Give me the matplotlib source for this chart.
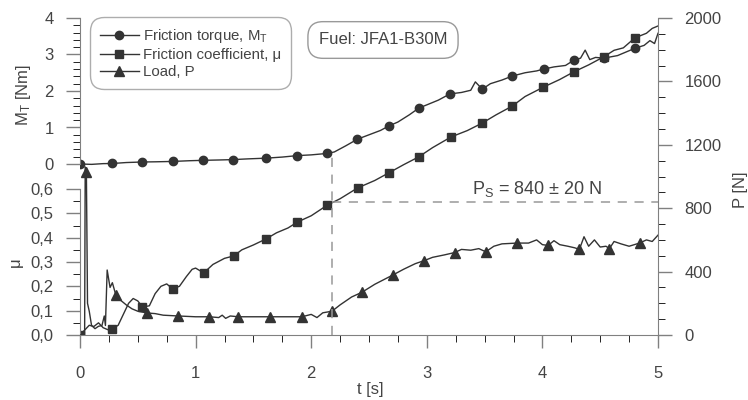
import matplotlib
matplotlib.use("Agg")
import matplotlib.pyplot as plt
from matplotlib.lines import Line2D
from matplotlib.ticker import FuncFormatter

plt.rcParams['font.family'] = ['Liberation Sans', 'DejaVu Sans']
plt.rcParams['mathtext.default'] = 'regular'

# --- data ---
# friction torque M_T [Nm]
t_mt = [0.00, 0.10, 0.20, 0.28, 0.40, 0.54, 0.65, 0.80, 0.95, 1.06, 1.20, 1.32, 1.45, 1.61,
        1.75, 1.88, 2.00, 2.14, 2.20, 2.30, 2.40, 2.50, 2.60, 2.67, 2.75, 2.85, 2.93, 3.00,
        3.10, 3.20, 3.30, 3.38, 3.42, 3.48, 3.55, 3.65, 3.74, 3.85, 3.95, 4.01, 4.10, 4.20,
        4.27, 4.33, 4.37, 4.41, 4.46, 4.53, 4.65, 4.80, 4.88, 4.93, 4.97, 5.00]
mt = [0.00, -0.01, 0.01, 0.014, 0.04, 0.055, 0.06, 0.07, 0.09, 0.10, 0.11, 0.12, 0.14, 0.16,
      0.19, 0.23, 0.25, 0.29, 0.33, 0.50, 0.68, 0.80, 0.92, 1.04, 1.15, 1.35, 1.53, 1.62,
      1.75, 1.92, 1.96, 2.02, 2.25, 2.05, 2.20, 2.30, 2.41, 2.50, 2.55, 2.60, 2.66, 2.70,
      2.84, 2.90, 3.12, 2.86, 2.92, 2.90, 2.97, 3.17, 3.25, 3.38, 3.30, 3.58]
t_mt_mk = [0.00, 0.277, 0.536, 0.804, 1.064, 1.32, 1.61, 1.88, 2.14, 2.40, 2.67, 2.93, 3.20,
           3.48, 3.74, 4.01, 4.27, 4.53, 4.80]
mt_mk = [0.00, 0.014, 0.055, 0.07, 0.10, 0.12, 0.16, 0.23, 0.29, 0.68, 1.04, 1.53, 1.92,
         2.05, 2.41, 2.60, 2.84, 2.90, 3.17]

# friction coefficient mu
t_mu = [0.00, 0.04, 0.08, 0.12, 0.16, 0.20, 0.25, 0.28, 0.33, 0.38, 0.42, 0.46, 0.50, 0.54,
        0.60, 0.65, 0.70, 0.75, 0.80, 0.86, 0.92, 0.97, 1.00, 1.07, 1.15, 1.25, 1.33, 1.40,
        1.50, 1.61, 1.70, 1.80, 1.88, 2.00, 2.14, 2.25, 2.40, 2.55, 2.67, 2.80, 2.93, 3.05,
        3.21, 3.35, 3.48, 3.60, 3.74, 3.85, 4.01, 4.15, 4.27, 4.40, 4.53, 4.62, 4.70, 4.80,
        4.90, 4.95, 5.00]
mu = [0.00, 0.02, 0.04, 0.035, 0.05, 0.03, 0.02, 0.025, 0.04, 0.09, 0.13, 0.15, 0.14, 0.115,
      0.12, 0.17, 0.20, 0.21, 0.19, 0.20, 0.24, 0.27, 0.275, 0.255, 0.29, 0.315, 0.325, 0.35,
      0.37, 0.395, 0.42, 0.44, 0.464, 0.49, 0.534, 0.56, 0.604, 0.635, 0.666, 0.70, 0.732, 0.77,
      0.814, 0.84, 0.871, 0.905, 0.941, 0.98, 1.019, 1.05, 1.081, 1.11, 1.143, 1.17, 1.18, 1.221,
      1.24, 1.26, 1.27]
t_mu_mk = [0.00, 0.277, 0.536, 0.804, 1.073, 1.332, 1.609, 1.877, 2.137, 2.405, 2.673, 2.932,
           3.21, 3.478, 3.737, 4.005, 4.273, 4.533, 4.801]
mu_mk = [0.00, 0.025, 0.115, 0.189, 0.253, 0.325, 0.395, 0.464, 0.534, 0.604, 0.666, 0.732,
         0.814, 0.871, 0.941, 1.019, 1.081, 1.143, 1.221]

# load P [N]
t_p = [0.00, 0.04, 0.045, 0.055, 0.065, 0.08, 0.10, 0.13, 0.16, 0.19, 0.21, 0.22, 0.235, 0.26,
       0.28, 0.31, 0.35, 0.40, 0.45, 0.50, 0.58, 0.65, 0.72, 0.85, 1.00, 1.12, 1.20, 1.23, 1.26,
       1.30, 1.37, 1.64, 1.92, 2.00, 2.05, 2.10, 2.18, 2.25, 2.35, 2.44, 2.55, 2.71, 2.80, 2.90,
       2.98, 3.05, 3.15, 3.24, 3.30, 3.38, 3.45, 3.51, 3.58, 3.65, 3.78, 3.88, 3.95, 4.00, 4.05,
       4.10, 4.15, 4.22, 4.28, 4.32, 4.36, 4.40, 4.45, 4.50, 4.55, 4.58, 4.62, 4.68, 4.75, 4.84,
       4.90, 4.95, 5.00]
p = [0, 0, 1060, 1050, 200, 150, 60, 40, 55, 60, 120, 60, 410, 300, 330, 252, 220, 190, 165, 150,
     139, 135, 125, 120, 115, 115, 110, 125, 105, 120, 115, 115, 115, 130, 110, 140, 150, 190,
     240, 270, 320, 380, 415, 450, 470, 490, 505, 520, 540, 535, 545, 525, 560, 575, 580, 580,
     600, 570, 565, 595, 570, 560, 550, 540, 620, 560, 600, 555, 560, 545, 590, 575, 560, 580,
     600, 590, 630]
t_p_mk = [0.05, 0.31, 0.58, 0.85, 1.12, 1.37, 1.64, 1.92, 2.18, 2.44, 2.71, 2.98, 3.24, 3.51,
          3.78, 4.05, 4.32, 4.58, 4.84]
p_mk = [1030, 252, 139, 120, 115, 115, 115, 115, 150, 270, 380, 470, 520, 525, 580, 565, 540,
        545, 580]

mu_ticks = [0, 0.1, 0.2, 0.3, 0.4, 0.5, 0.6]
mt_ticks = [0, 1, 2, 3, 4]
p_ticks = [0, 400, 800, 1200, 1600, 2000]
t_ticks = [0, 1, 2, 3, 4, 5]

ps_t = 2.18
ps_val = 840

ink = '#333333'
txt = '#444444'
axc = '#808080'
fs = 12

fig = plt.figure(figsize=(7.48, 4.0), dpi=100)
rect = [80 / 748, 65 / 400, 578 / 748, 317 / 400]
ax_mu = fig.add_axes(rect)
ax_mt = ax_mu.twinx()
ax_p = ax_mu.twinx()

for a in (ax_mu, ax_mt, ax_p):
    for s in a.spines.values():
        s.set_visible(False)
        s.set_color(axc)
    a.tick_params(colors=axc, labelcolor=txt, labelsize=fs, width=1.0)

# mu axis (lower left) + time axis
ax_mu.spines['left'].set_visible(True)
ax_mu.spines['left'].set_bounds(0, 0.6)
ax_mu.spines['bottom'].set_visible(True)
ax_mu.set_yticks(mu_ticks)
ax_mu.set_yticks([i * 0.05 for i in range(13)], minor=True)
ax_mu.yaxis.set_major_formatter(FuncFormatter(lambda v, pos: f'{v:.1f}'.replace('.', ',')))
ax_mu.set_xticks(t_ticks)
ax_mu.set_xticks([i * 0.25 for i in range(21)], minor=True)
ax_mu.set_xlim(0, 5)
ax_mu.set_ylim(0, 0.6 * 317 / 146)
ax_mu.tick_params(axis='y', which='major', length=10, pad=9)
ax_mu.tick_params(axis='y', which='minor', length=5)
ax_mu.tick_params(axis='x', which='major', length=9.5, pad=12.5)
ax_mu.tick_params(axis='x', which='minor', length=5)

# torque axis (upper left)
ax_mt.yaxis.tick_left()
ax_mt.yaxis.set_label_position('left')
ax_mt.spines['left'].set_visible(True)
ax_mt.spines['left'].set_bounds(0, 4)
ax_mt.set_yticks(mt_ticks)
ax_mt.set_yticks([i * 0.2 for i in range(21)], minor=True)
ax_mt.set_ylim(-171 / 36.5, 4)
ax_mt.tick_params(axis='y', which='major', length=10, pad=9)
ax_mt.tick_params(axis='y', which='minor', length=5)

# load axis (right)
ax_p.spines['right'].set_visible(True)
ax_p.spines['right'].set_bounds(0, 2000)
ax_p.set_yticks(p_ticks)
ax_p.set_yticks(list(range(0, 2001, 100)), minor=True)
ax_p.set_ylim(0, 2000)
ax_p.tick_params(axis='y', which='major', length=10, pad=9)
ax_p.tick_params(axis='y', which='minor', length=5)

# curves
ax_mt.plot(t_mt, mt, color=ink, lw=1.0)
ax_mt.plot(t_mt_mk, mt_mk, ls='none', marker='o', ms=6, color=ink)
ax_mu.plot(t_mu, mu, color=ink, lw=1.0)
ax_mu.plot(t_mu_mk, mu_mk, ls='none', marker='s', ms=6, color=ink)
ax_p.plot(t_p, p, color=ink, lw=1.0)
ax_p.plot(t_p_mk, p_mk, ls='none', marker='^', ms=6.5, color=ink)

# P_S guide lines
dash = (0, (6, 5))
ax_p.plot([ps_t, ps_t], [0, 1136], color='#999999', lw=1.1, ls=dash)
ax_p.plot([ps_t, 5], [ps_val, ps_val], color='#999999', lw=1.1, ls=dash)
ax_p.text(3.95, ps_val + 50, r'P$_S$ = 840 ± 20 N', ha='center', va='baseline',
          fontsize=13, color=txt)

# axis labels
ax_mt.set_ylabel(r'M$_T$ [Nm]', fontsize=fs, color=txt)
ax_mt.yaxis.set_label_coords(-0.081, 0.757)
ax_mu.set_ylabel('μ', fontsize=fs, color=txt)
ax_mu.yaxis.set_label_coords(-0.099, 0.23)
ax_p.set_ylabel('P [N]', fontsize=fs, color=txt)
ax_p.yaxis.set_label_coords(1.13, 0.457)
ax_mu.set_xlabel('t [s]', fontsize=fs, color=txt)
ax_mu.xaxis.set_label_coords(0.502, -0.148)

# legend
handles = [Line2D([], [], color=ink, lw=1.0, marker='o', ms=6),
           Line2D([], [], color=ink, lw=1.0, marker='s', ms=6),
           Line2D([], [], color=ink, lw=1.0, marker='^', ms=6.5)]
labels = [r'Friction torque, M$_T$', 'Friction coefficient, μ', 'Load, P']
leg = fig.legend(handles, labels, loc='upper left', bbox_to_anchor=(93 / 748, 1 - 20 / 400),
                 fontsize=10.8, frameon=True, fancybox=True, handlelength=2.6,
                 handletextpad=0.3, labelspacing=0.2, borderpad=0.45, borderaxespad=0,
                 labelcolor=txt)
leg.get_frame().set_edgecolor('#999999')
leg.get_frame().set_linewidth(1.0)
leg.get_frame().set_boxstyle('round,pad=0.2,rounding_size=0.9')

fig.text(383 / 748, 1 - 40 / 400, 'Fuel: JFA1-B30M', ha='center', va='center', fontsize=12,
         color=txt, bbox=dict(boxstyle='round,pad=0.65,rounding_size=0.9', fc='white',
                              ec='#999999', lw=1.0))

fig.savefig('out.png', dpi=100)
